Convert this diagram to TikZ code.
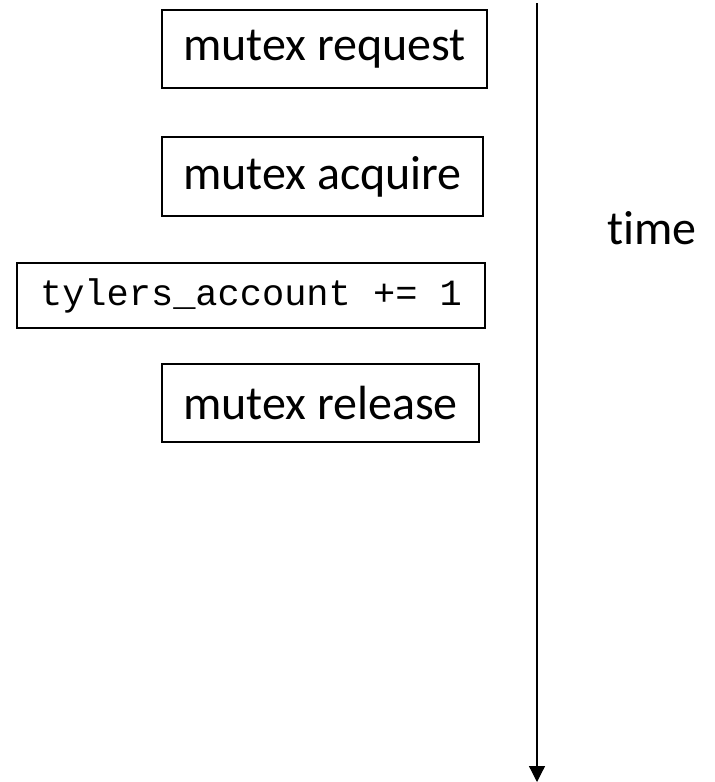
\documentclass[tikz,border=0pt]{standalone}
\usepackage{fontspec}
\setmainfont{Carlito}[Ligatures=NoCommon]
\setmonofont{Liberation Mono}
\usetikzlibrary{arrows.meta}
\tikzset{
  stepbox/.style={draw=black, line width=1.2pt, inner sep=0pt, font=\fontsize{48}{52}\selectfont, anchor=center},
  codebox/.style={stepbox, font=\ttfamily\fontsize{37}{42}\selectfont},
  timeline/.style={line width=1.2pt, -{Triangle[length=16pt,width=16pt]}}
}
\begin{document}
\begin{tikzpicture}[x=1pt,y=-1pt]
\useasboundingbox (0,0) rectangle (715,782);
\node[stepbox, minimum width=325pt, minimum height=78pt] (req) at (324.5,49) {mutex request};
\node[stepbox, minimum width=321pt, minimum height=79pt] (acq) at (322.5,176.5) {mutex acquire};
\node[codebox, minimum width=468pt, minimum height=65pt] (inc) at (251,295.5) {tylers\_account += 1};
\node[stepbox, minimum width=317pt, minimum height=78pt] (rel) at (320.5,403) {mutex release};
\coordinate (ttop) at (537,3);
\coordinate (tend) at (537,782);
\draw[timeline] (ttop) -- (tend);
\node[font=\fontsize{48}{52}\selectfont, inner sep=0pt] (time) at (652,228) {time};
\end{tikzpicture}
\end{document}
